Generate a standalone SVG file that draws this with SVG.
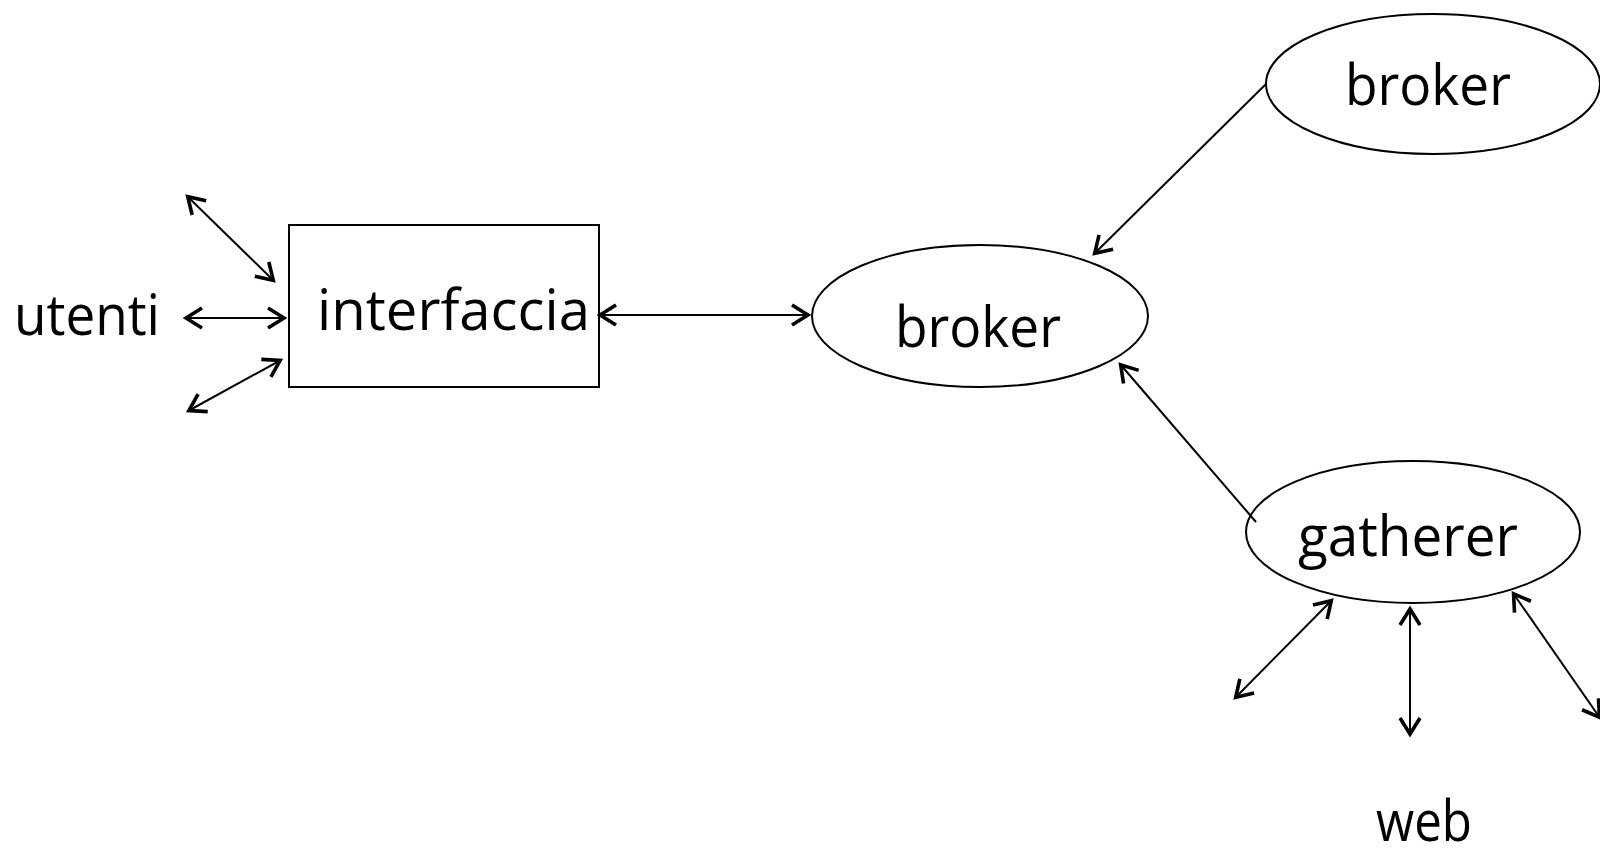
<svg xmlns="http://www.w3.org/2000/svg" width="1600" height="855" viewBox="0 0 1600 855">
<style>
.lbl{font-family:"Open Sans","DejaVu Sans",sans-serif;font-size:56px;fill:#000}
.shape{fill:#fff;stroke:#000;stroke-width:2}
.conn{fill:none;stroke:#000;stroke-width:2}
</style>
<defs>
<marker id="ah" markerUnits="userSpaceOnUse" markerWidth="34" markerHeight="34" viewBox="-22 -17 34 34" refX="0" refY="0" orient="auto-start-reverse" overflow="visible">
<path d="M-17,-10 L-1,0 L-17,10" fill="none" stroke="#000" stroke-width="3.6" stroke-linejoin="miter"/>
</marker>
</defs>
<rect width="1600" height="855" fill="#fff"/>
<g id="node-utenti"><text class="lbl" x="14" y="335" textLength="146" lengthAdjust="spacingAndGlyphs">utenti</text></g>
<g id="node-interfaccia">
<rect class="shape" x="289" y="225" width="310" height="162"/>
<text class="lbl" x="317" y="330" textLength="273" lengthAdjust="spacingAndGlyphs">interfaccia</text>
</g>
<g id="node-broker">
<ellipse class="shape" cx="980" cy="316" rx="168" ry="71"/>
<text class="lbl" x="895" y="347" textLength="166" lengthAdjust="spacingAndGlyphs">broker</text>
</g>
<g id="node-broker-top">
<ellipse class="shape" cx="1433" cy="84" rx="167" ry="70"/>
<text class="lbl" x="1345" y="105" textLength="166" lengthAdjust="spacingAndGlyphs">broker</text>
</g>
<g id="node-gatherer">
<ellipse class="shape" cx="1413" cy="532" rx="167" ry="71"/>
<text class="lbl" x="1298" y="556" textLength="220" lengthAdjust="spacingAndGlyphs">gatherer</text>
</g>
<g id="node-web"><text class="lbl" x="1376" y="841" textLength="96" lengthAdjust="spacingAndGlyphs">web</text></g>
<g id="connectors">
<line class="conn" x1="187" y1="196" x2="274" y2="281" marker-start="url(#ah)" marker-end="url(#ah)"/>
<line class="conn" x1="185" y1="318" x2="285" y2="318" marker-start="url(#ah)" marker-end="url(#ah)"/>
<line class="conn" x1="188" y1="411" x2="281" y2="360" marker-start="url(#ah)" marker-end="url(#ah)"/>
<line class="conn" x1="599" y1="315" x2="809" y2="315" marker-start="url(#ah)" marker-end="url(#ah)"/>
<line class="conn" x1="1266" y1="84" x2="1094" y2="254" marker-end="url(#ah)"/>
<line class="conn" x1="1256" y1="522" x2="1120" y2="364" marker-end="url(#ah)"/>
<line class="conn" x1="1332" y1="600" x2="1235" y2="698" marker-start="url(#ah)" marker-end="url(#ah)"/>
<line class="conn" x1="1410" y1="608" x2="1410" y2="735" marker-start="url(#ah)" marker-end="url(#ah)"/>
<line class="conn" x1="1513" y1="593" x2="1600" y2="718" marker-start="url(#ah)" marker-end="url(#ah)"/>
</g>
</svg>
